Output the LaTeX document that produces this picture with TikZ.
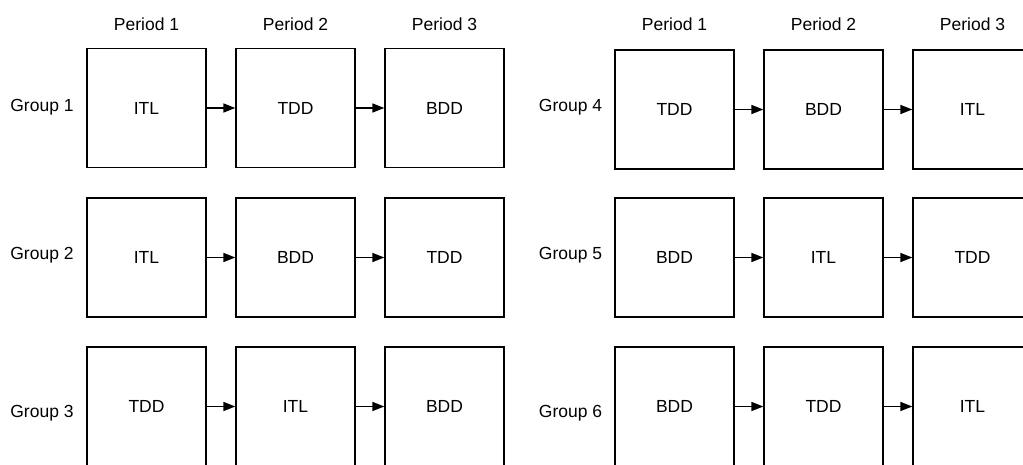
\documentclass[tikz,border=0pt]{standalone}
\usepackage{fontspec}
\setmainfont{Liberation Sans}
\usetikzlibrary{arrows.meta}
\begin{document}
\begin{tikzpicture}[x=1pt,y=-1pt,
  box/.style={draw=black,line width=1.3pt,minimum width=119pt,minimum height=119pt,inner sep=0pt,font=\fontsize{17.5}{20}\selectfont},
  lbl/.style={inner sep=0pt,font=\fontsize{17.5}{20}\selectfont},
  conn/.style={line width=1.5pt,-{Triangle[length=12pt,width=9pt]}}]
\useasboundingbox (0,0) rectangle (1023,464);
% period headers
\foreach \x/\n/\k in {146.5/a/1,295.5/b/2,444.5/c/3,674.5/d/1,823.5/e/2,972.5/f/3}
  \node[lbl] (p\n) at (\x,24) {Period \k};
% group labels
\node[lbl] (g1) at (42,107) {Group 1};
\node[lbl] (g2) at (42,255) {Group 2};
\node[lbl] (g3) at (42,413) {Group 3};
\node[lbl] (g4) at (570.5,107) {Group 4};
\node[lbl] (g5) at (570.5,255) {Group 5};
\node[lbl] (g6) at (570.5,413) {Group 6};
% row 1
\node[box] (b11) at (146.5,108) {ITL};
\node[box] (b12) at (295.5,108) {TDD};
\node[box] (b13) at (444.5,108) {BDD};
\node[box] (b41) at (674.5,109.5) {TDD};
\node[box] (b42) at (823.5,109.5) {BDD};
\node[box] (b43) at (972.5,109.5) {ITL};
% row 2
\node[box] (b21) at (146.5,257.5) {ITL};
\node[box] (b22) at (295.5,257.5) {BDD};
\node[box] (b23) at (444.5,257.5) {TDD};
\node[box] (b51) at (674.5,257.5) {BDD};
\node[box] (b52) at (823.5,257.5) {ITL};
\node[box] (b53) at (972.5,257.5) {TDD};
% row 3
\node[box] (b31) at (146.5,406.5) {TDD};
\node[box] (b32) at (295.5,406.5) {ITL};
\node[box] (b33) at (444.5,406.5) {BDD};
\node[box] (b61) at (674.5,406.5) {BDD};
\node[box] (b62) at (823.5,406.5) {TDD};
\node[box] (b63) at (972.5,406.5) {ITL};
% connectors
\foreach \r in {1,2,3,4,5,6}{
  \draw[conn] (b\r1.east) -- (b\r2.west);
  \draw[conn] (b\r2.east) -- (b\r3.west);
}
\end{tikzpicture}
\end{document}
